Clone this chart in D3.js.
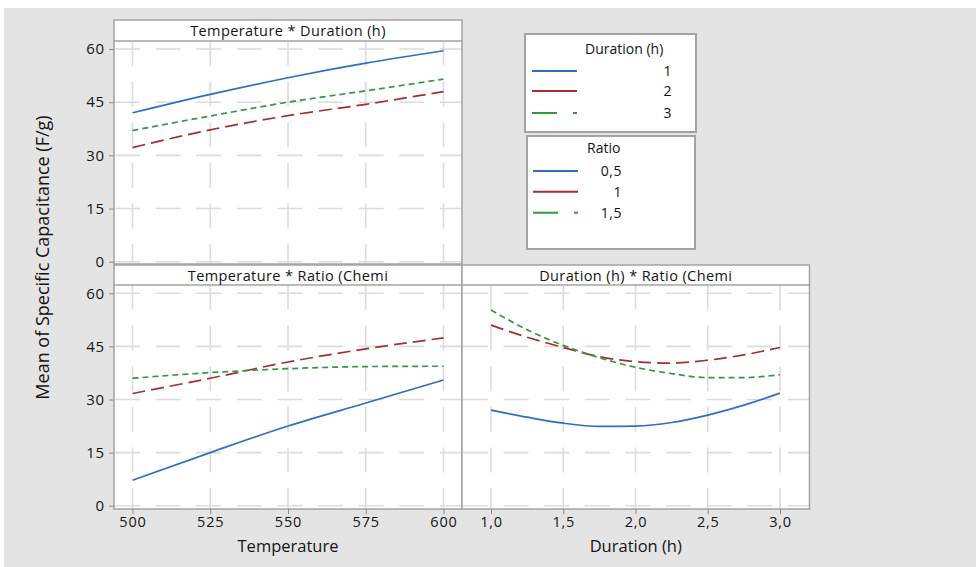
<!DOCTYPE html>
<html><head><meta charset="utf-8">
<script src="https://cdn.jsdelivr.net/npm/d3@7"></script>
<style>
body{margin:0;background:#fff}
svg{display:block;font-family:"Open Sans",sans-serif}
</style>
</head><body><svg id="chart" width="976" height="567"></svg>
<script>
// ---------- data ----------
const temperatureLevels = [500, 525, 550, 575, 600];
const durationLevels = [1.0, 1.25, 1.5, 1.75, 2.0, 2.25, 2.5, 2.75, 3.0];
const yTicks = [0, 15, 30, 45, 60];
const temperatureTicks = [500, 525, 550, 575, 600];
const durationTicks = [1.0, 1.5, 2.0, 2.5, 3.0];
const durationTickLabels = ["1,0", "1,5", "2,0", "2,5", "3,0"];
const durationLegendLabels = ["1", "2", "3"];
const ratioLegendLabels = ["0,5", "1", "1,5"];
const panelTitles = ["Temperature * Duration (h)", "Temperature * Ratio (Chemi", "Duration (h) * Ratio (Chemi"];
const xAxisTitles = ["Temperature", "Duration (h)"];
const yAxisTitle = "Mean of Specific Capacitance (F/g)";

const tempByDuration1 = [42.0, 47.2, 51.9, 56.0, 59.5];
const tempByDuration2 = [32.2, 37.2, 41.2, 44.4, 48.0];
const tempByDuration3 = [37.0, 41.1, 45.0, 48.2, 51.5];
const tempByRatio05 = [7.2, 15.0, 22.5, 29.0, 35.5];
const tempByRatio1 = [31.7, 36.0, 40.6, 44.3, 47.4];
const tempByRatio15 = [36.0, 37.6, 38.7, 39.3, 39.4];
const durByRatio05 = [27.0, 25.0, 23.3, 22.4, 22.5, 23.5, 25.6, 28.4, 31.8];
const durByRatio1 = [51.0, 47.6, 44.7, 42.1, 40.7, 40.3, 41.1, 42.6, 44.7];
const durByRatio15 = [55.3, 49.7, 45.3, 41.8, 39.1, 37.3, 36.2, 36.2, 37.0];

// ---------- styles ----------
const seriesStyles = [
  {color: "#2f6fbf", dash: null},
  {color: "#a52f2f", dash: "13,6"},
  {color: "#2f9a3f", dash: "6,4"}
];
const borderColor = "#a3a3a3";
const gridColor = "#dcdcdc";
const textColor = "#141414";

const svg = d3.select("#chart");
svg.append("rect").attr("x", 4).attr("y", 8).attr("width", 972).attr("height", 559).attr("fill", "#e4e4e4");

const yTop = d3.scaleLinear().domain([0, 60]).range([261.7, 49]);
const yBot = d3.scaleLinear().domain([0, 60]).range([505.7, 293.3]);
const xTemp = d3.scaleLinear().domain([500, 600]).range([132.5, 443.5]);
const xDur = d3.scaleLinear().domain([1, 3]).range([491, 780]);

const panels = [
  {id: "p1", x0: 114, x1: 462, stripTop: 20, top: 41, bottom: 264, x: xTemp, y: yTop, xs: temperatureLevels,
   series: [tempByDuration1, tempByDuration2, tempByDuration3], title: panelTitles[0], xticks: temperatureTicks, yAxis: true},
  {id: "p2", x0: 114, x1: 462, stripTop: 265, top: 285, bottom: 509, x: xTemp, y: yBot, xs: temperatureLevels,
   series: [tempByRatio05, tempByRatio1, tempByRatio15], title: panelTitles[1], xticks: temperatureTicks, yAxis: true,
   xAxis: {labels: temperatureTicks.map(String), title: xAxisTitles[0]}},
  {id: "p3", x0: 462, x1: 809.5, stripTop: 265, top: 285, bottom: 509, x: xDur, y: yBot, xs: durationLevels,
   series: [durByRatio05, durByRatio1, durByRatio15], title: panelTitles[2], xticks: durationTicks, yAxis: false,
   xAxis: {labels: durationTickLabels, title: xAxisTitles[1]}}
];

const defs = svg.append("defs");

panels.forEach(p => {
  const w = p.x1 - p.x0;
  defs.append("clipPath").attr("id", "clip-" + p.id)
    .append("rect").attr("x", p.x0).attr("y", p.top).attr("width", w).attr("height", p.bottom - p.top);
  const g = svg.append("g");
  g.append("rect").attr("x", p.x0).attr("y", p.stripTop).attr("width", w).attr("height", p.top - p.stripTop)
    .attr("fill", "#fff");
  g.append("rect").attr("x", p.x0).attr("y", p.top).attr("width", w).attr("height", p.bottom - p.top)
    .attr("fill", "#fff");
  const cg = g.append("g").attr("clip-path", "url(#clip-" + p.id + ")");
  cg.selectAll(".hg").data(yTicks).join("line")
    .attr("x1", p.x0 + 1).attr("x2", p.x1).attr("y1", d => p.y(d)).attr("y2", d => p.y(d))
    .attr("stroke", gridColor).attr("stroke-width", 1.6).attr("stroke-dasharray", "25,15.6");
  cg.selectAll(".vg").data(p.xticks).join("line")
    .attr("y1", p.top).attr("y2", p.bottom).attr("x1", d => p.x(d)).attr("x2", d => p.x(d))
    .attr("stroke", gridColor).attr("stroke-width", 1.6).attr("stroke-dasharray", "25,15.6");
  const line = d3.line().x((d, i) => p.x(p.xs[i])).y(d => p.y(d)).curve(d3.curveMonotoneX);
  p.series.forEach((s, i) => {
    cg.append("path").attr("d", line(s)).attr("fill", "none")
      .attr("stroke", seriesStyles[i].color).attr("stroke-width", 1.7)
      .attr("stroke-dasharray", seriesStyles[i].dash);
  });
  g.append("rect").attr("x", p.x0).attr("y", p.stripTop).attr("width", w).attr("height", p.bottom - p.stripTop)
    .attr("fill", "none").attr("stroke", borderColor).attr("stroke-width", 1.5);
  g.append("line").attr("x1", p.x0).attr("x2", p.x1).attr("y1", p.top).attr("y2", p.top)
    .attr("stroke", borderColor).attr("stroke-width", 1.5);
  g.append("text").attr("x", (p.x0 + p.x1) / 2).attr("y", p.stripTop + 16)
    .attr("text-anchor", "middle").attr("font-size", 14.5).attr("letter-spacing", 0.4)
    .attr("fill", textColor).text(p.title);
  if (p.yAxis) {
    const ax = g.append("g").attr("transform", `translate(${p.x0},0)`)
      .call(d3.axisLeft(p.y).tickValues(yTicks).tickSize(5).tickPadding(4));
    ax.select(".domain").remove();
    ax.selectAll("line").attr("stroke", "#8a8a8a");
    ax.selectAll("text").attr("font-size", 15).attr("letter-spacing", 0.8).attr("fill", textColor)
      .attr("font-family", '"Open Sans",sans-serif');
  }
  if (p.xAxis) {
    const ax = g.append("g").attr("transform", `translate(0,${p.bottom})`)
      .call(d3.axisBottom(p.x).tickValues(p.xticks).tickSize(5).tickPadding(3)
        .tickFormat((d, i) => p.xAxis.labels[i]));
    ax.select(".domain").remove();
    ax.selectAll("line").attr("stroke", "#8a8a8a");
    ax.selectAll("text").attr("font-size", 14.5).attr("letter-spacing", 0.8).attr("fill", textColor)
      .attr("font-family", '"Open Sans",sans-serif');
    g.append("text").attr("x", (p.x0 + p.x1) / 2).attr("y", 552)
      .attr("text-anchor", "middle").attr("font-size", 16.5).attr("fill", textColor).text(p.xAxis.title);
  }
});

svg.append("text").attr("transform", "translate(43,257.5) rotate(-90)")
  .attr("text-anchor", "middle").attr("dy", "0.35em").attr("font-size", 18).attr("fill", textColor)
  .text(yAxisTitle);

const legends = [
  {x: 525, y: 34, w: 171, h: 98, title: "Duration (h)", titleX: 585, titleY: 54, rows: [71, 91, 113],
   lx0: 532, lx1: 577, labelX: 672, labels: durationLegendLabels},
  {x: 527, y: 136, w: 168, h: 113, title: "Ratio", titleX: 587, titleY: 153, rows: [171, 191.7, 212.7],
   lx0: 533, lx1: 578, labelX: 622, labels: ratioLegendLabels}
];
const legendDash = [null, null, "25,16"];
legends.forEach(L => {
  const g = svg.append("g");
  g.append("rect").attr("x", L.x).attr("y", L.y).attr("width", L.w).attr("height", L.h)
    .attr("fill", "#fff").attr("stroke", borderColor).attr("stroke-width", 2);
  g.append("text").attr("x", L.titleX).attr("y", L.titleY).attr("font-size", 14).attr("fill", textColor).text(L.title);
  L.labels.forEach((lab, i) => {
    g.append("line").attr("x1", L.lx0).attr("x2", L.lx1).attr("y1", L.rows[i]).attr("y2", L.rows[i])
      .attr("stroke", seriesStyles[i].color).attr("stroke-width", 2).attr("stroke-dasharray", legendDash[i]);
    g.append("text").attr("x", L.labelX).attr("y", L.rows[i] + 5).attr("text-anchor", "end")
      .attr("font-size", 14).attr("letter-spacing", 0.5).attr("fill", textColor).text(lab);
  });
});
</script>
</body></html>
